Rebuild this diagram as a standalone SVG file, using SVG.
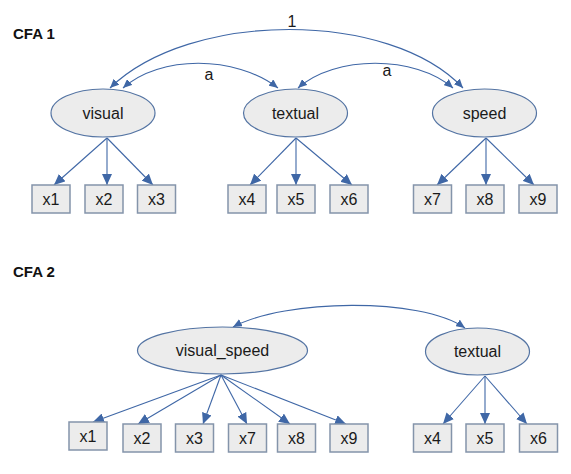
<svg xmlns="http://www.w3.org/2000/svg" width="571" height="474" viewBox="0 0 571 474">
<style>
.bg{fill:#ffffff}
.lat{fill:#ececec;stroke:#5474a3;stroke-width:1.2}
.obs{fill:#ececec;stroke:#8494aa;stroke-width:1.5}
.t{font-family:"Liberation Sans",Arial,sans-serif;font-size:16px;fill:#1a1a1a;text-anchor:middle}
.h{font-family:"Liberation Sans",Arial,sans-serif;font-size:15px;font-weight:bold;fill:#111111}
.ld{stroke:#3f67a6;stroke-width:1.1;fill:none;marker-end:url(#ah)}
.cv{stroke:#3f67a6;stroke-width:1.1;fill:none;marker-end:url(#sh);marker-start:url(#sh)}
</style>
<defs>
<marker id="ah" markerUnits="userSpaceOnUse" markerWidth="11" markerHeight="10" refX="11" refY="5" orient="auto" viewBox="0 0 11 10">
<path d="M0,0 L11,5 L0,10 z" fill="#3f67a6"/>
</marker>
<marker id="sh" markerUnits="userSpaceOnUse" markerWidth="9" markerHeight="8" refX="9" refY="4" orient="auto-start-reverse" viewBox="0 0 9 8">
<path d="M0,0 L9,4 L0,8 z" fill="#3f67a6"/>
</marker>
</defs>
<rect class="bg" x="0" y="0" width="571" height="474"/>
<text class="h" x="13" y="39">CFA 1</text>
<text class="h" x="13" y="277">CFA 2</text>

<g id="connectors">
<path class="cv" d="M110,88 C190,10 390,10 463,88"/>
<path class="cv" d="M123,88 C160,55 235,55 278,88"/>
<path class="cv" d="M298,88 C335,55 415,55 453,88"/>
<line class="ld" x1="107" y1="138" x2="54" y2="185"/>
<line class="ld" x1="107" y1="138" x2="107" y2="185"/>
<line class="ld" x1="107" y1="138" x2="153" y2="185"/>
<line class="ld" x1="296" y1="138" x2="250" y2="185"/>
<line class="ld" x1="296" y1="138" x2="296" y2="185"/>
<line class="ld" x1="296" y1="138" x2="352" y2="185"/>
<line class="ld" x1="486" y1="138" x2="437" y2="185"/>
<line class="ld" x1="486" y1="138" x2="486" y2="185"/>
<line class="ld" x1="486" y1="138" x2="534" y2="185"/>
<path class="cv" d="M233,327 C285,299 420,297 465,328"/>
<line class="ld" x1="221" y1="375" x2="93" y2="422"/>
<line class="ld" x1="221" y1="375" x2="138" y2="424"/>
<line class="ld" x1="221" y1="375" x2="203" y2="424"/>
<line class="ld" x1="221" y1="375" x2="247" y2="424"/>
<line class="ld" x1="221" y1="375" x2="290" y2="424"/>
<line class="ld" x1="221" y1="375" x2="346" y2="424"/>
<line class="ld" x1="485" y1="376" x2="443" y2="424"/>
<line class="ld" x1="485" y1="376" x2="485" y2="424"/>
<line class="ld" x1="485" y1="376" x2="527" y2="424"/>
</g>

<g id="visual"><ellipse class="lat" cx="103" cy="113" rx="52" ry="24"/><text class="t" x="103" y="118.5">visual</text></g>
<g id="textual"><ellipse class="lat" cx="295.5" cy="113" rx="52" ry="24"/><text class="t" x="295.5" y="118.5">textual</text></g>
<g id="speed"><ellipse class="lat" cx="484.5" cy="113" rx="52" ry="24"/><text class="t" x="484.5" y="118.5">speed</text></g>

<g id="x1a"><rect class="obs" x="32" y="185" width="38" height="28"/><text class="t" x="51" y="205">x1</text></g>
<g id="x2a"><rect class="obs" x="85" y="185" width="38" height="28"/><text class="t" x="104" y="205">x2</text></g>
<g id="x3a"><rect class="obs" x="137.5" y="185" width="38" height="28"/><text class="t" x="156.5" y="205">x3</text></g>
<g id="x4a"><rect class="obs" x="228" y="185" width="38" height="28"/><text class="t" x="247" y="205">x4</text></g>
<g id="x5a"><rect class="obs" x="277" y="185" width="38" height="28"/><text class="t" x="296" y="205">x5</text></g>
<g id="x6a"><rect class="obs" x="330" y="185" width="38" height="28"/><text class="t" x="349" y="205">x6</text></g>
<g id="x7a"><rect class="obs" x="413.5" y="185" width="38" height="28"/><text class="t" x="432.5" y="205">x7</text></g>
<g id="x8a"><rect class="obs" x="466" y="185" width="38" height="28"/><text class="t" x="485" y="205">x8</text></g>
<g id="x9a"><rect class="obs" x="519" y="185" width="38" height="28"/><text class="t" x="538" y="205">x9</text></g>

<g id="labels">
<text class="t" x="292" y="27">1</text>
<text class="t" x="209" y="80">a</text>
<text class="t" x="387" y="76">a</text>
</g>

<g id="visual_speed"><ellipse class="lat" cx="222.5" cy="350.5" rx="85" ry="23.5"/><text class="t" x="222.5" y="356">visual_speed</text></g>
<g id="textual2"><ellipse class="lat" cx="477.5" cy="351.5" rx="52" ry="23.5"/><text class="t" x="477.5" y="357">textual</text></g>

<g id="x1b"><rect class="obs" x="69" y="422" width="38" height="28"/><text class="t" x="88" y="442">x1</text></g>
<g id="x2b"><rect class="obs" x="123" y="424" width="38" height="28"/><text class="t" x="142" y="444">x2</text></g>
<g id="x3b"><rect class="obs" x="175.5" y="424" width="38" height="28"/><text class="t" x="194.5" y="444">x3</text></g>
<g id="x7b"><rect class="obs" x="228.5" y="424" width="38" height="28"/><text class="t" x="247.5" y="444">x7</text></g>
<g id="x8b"><rect class="obs" x="277.5" y="424" width="38" height="28"/><text class="t" x="296.5" y="444">x8</text></g>
<g id="x9b"><rect class="obs" x="330" y="424" width="38" height="28"/><text class="t" x="349" y="444">x9</text></g>
<g id="x4b"><rect class="obs" x="413.5" y="424" width="38" height="28"/><text class="t" x="432.5" y="444">x4</text></g>
<g id="x5b"><rect class="obs" x="466" y="424" width="38" height="28"/><text class="t" x="485" y="444">x5</text></g>
<g id="x6b"><rect class="obs" x="519.5" y="424" width="38" height="28"/><text class="t" x="538.5" y="444">x6</text></g>
</svg>
